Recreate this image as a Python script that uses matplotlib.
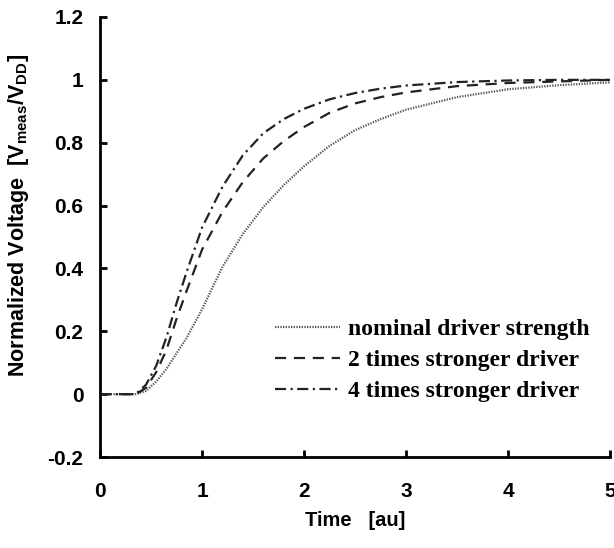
import numpy as np
import matplotlib.pyplot as plt

# time axis [au] and normalized voltages
time = [0, 0.2, 0.35, 0.45, 0.55, 0.65, 0.75, 0.85, 1.0, 1.2, 1.4, 1.6,
        1.8, 2.0, 2.25, 2.5, 2.75, 3.0, 3.5, 4.0, 4.5, 5.0]
nominal = [0, 0, 0, 0.01, 0.04, 0.08, 0.13, 0.18, 0.27, 0.405, 0.51, 0.595,
           0.665, 0.725, 0.79, 0.84, 0.875, 0.905, 0.945, 0.97, 0.983, 0.992]
stronger2 = [0, 0, 0, 0.02, 0.07, 0.14, 0.24, 0.33, 0.46, 0.58, 0.675, 0.75,
             0.805, 0.85, 0.895, 0.925, 0.945, 0.96, 0.98, 0.99, 0.995, 1.0]
stronger4 = [0, 0, 0, 0.03, 0.09, 0.18, 0.29, 0.39, 0.53, 0.66, 0.76, 0.83,
             0.875, 0.908, 0.938, 0.958, 0.972, 0.982, 0.993, 0.998, 1.0, 1.0]
labels = ["nominal driver strength", "2 times stronger driver", "4 times stronger driver"]

plt.rcParams['mathtext.fontset'] = 'custom'
plt.rcParams['mathtext.rm'] = 'Liberation Sans:bold'
plt.rcParams['mathtext.bf'] = 'Liberation Sans:bold'

fig = plt.figure(figsize=(6.14, 5.48), dpi=100)
ax = fig.add_axes([0.163, 0.166, 0.8305, 0.803])

ax.plot(time, nominal, color='#555555', lw=1.6, linestyle=(0, (0.6, 0.6)), label=labels[0])
ax.plot(time, stronger2, color='#222222', lw=1.6, linestyle=(0, (5, 3.5)), label=labels[1])
ax.plot(time, stronger4, color='#222222', lw=1.6, linestyle=(0, (5, 2, 1, 2)), label=labels[2])

ax.set_xlim(0, 5)
ax.set_ylim(-0.2, 1.2)
ax.set_xticks([0, 1, 2, 3, 4, 5])
ax.set_yticks([-0.2, 0, 0.2, 0.4, 0.6, 0.8, 1.0, 1.2])
ax.set_xticklabels(['0', '1', '2', '3', '4', '5'])
ax.set_yticklabels(['-0.2', '0', '0.2', '0.4', '0.6', '0.8', '1', '1.2'])

for s in ['top', 'right']:
    ax.spines[s].set_visible(False)
for s in ['left', 'bottom']:
    ax.spines[s].set_linewidth(2)

ax.tick_params(axis='x', direction='in', length=5, width=2, pad=18)
ax.tick_params(axis='y', direction='in', length=5, width=2, pad=12)
for lab in ax.get_xticklabels() + ax.get_yticklabels():
    lab.set_fontfamily('Liberation Sans')
    lab.set_fontweight('bold')
    lab.set_fontsize(15)

ax.set_xlabel('Time   [au]', fontfamily='Liberation Sans', fontweight='bold',
              fontsize=14.5, labelpad=7)
ax.set_ylabel(r'Normalized Voltage  [V$_{\mathrm{meas}}$/V$_{\mathrm{DD}}$]',
              fontfamily='Liberation Sans', fontweight='bold', fontsize=15.5)
ax.yaxis.set_label_coords(-0.135, 0.548)

leg = ax.legend(loc='upper left', bbox_to_anchor=(0.324, 0.336), borderaxespad=0,
                frameon=False, handlelength=2.75, handletextpad=0.35, labelspacing=0.4,
                prop={'family': 'Liberation Serif', 'weight': 'bold', 'size': 17})

fig.savefig('out.png', dpi=100)
